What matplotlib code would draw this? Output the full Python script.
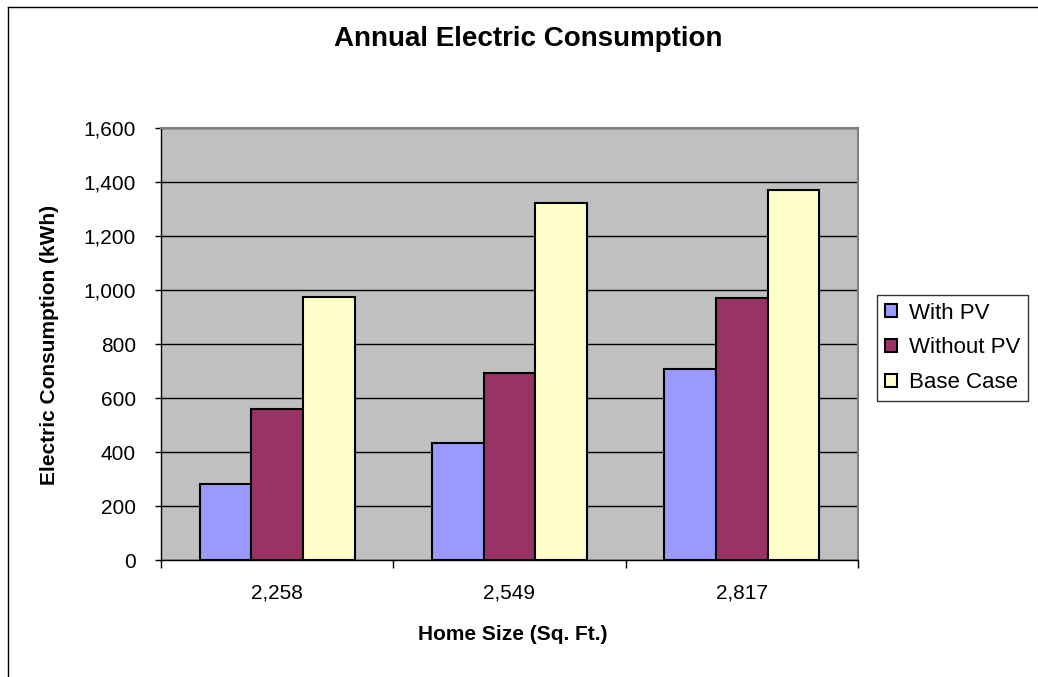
# Annual electric consumption by home size

import matplotlib.pyplot as plt
import numpy as np

plt.rcParams['font.family'] = ['Liberation Sans', 'DejaVu Sans']

home_sizes = ['2,258', '2,549', '2,817']
series_names = ['With PV', 'Without PV', 'Base Case']
with_pv = [281, 432, 707]
without_pv = [559, 693, 970]
base_case = [975, 1322, 1371]
y_ticks = [0, 200, 400, 600, 800, 1000, 1200, 1400, 1600]

colors = ['#9999FF', '#993366', '#FFFFCC']

W, H = 1038, 677
fig = plt.figure(figsize=(W / 100, H / 100), dpi=100)
ax = fig.add_axes([161 / W, 1 - 560 / H, 697 / W, 432 / H])
ax.set_facecolor('#C0C0C0')

x = np.arange(len(home_sizes))
width = 1 / 4.5
for i, (vals, name) in enumerate(zip([with_pv, without_pv, base_case], series_names)):
    ax.bar(x + (i - 1) * width, vals, width, color=colors[i], edgecolor='black',
           linewidth=1.5, label=name, zorder=3)

ax.set_xlim(-0.5, 2.5)
ax.set_ylim(0, 1600)
ax.set_yticks(y_ticks)
ax.set_yticklabels(['{:,}'.format(v) for v in y_ticks], fontsize=15)
ax.yaxis.grid(True, color='black', linewidth=1, zorder=0)
ax.set_axisbelow(True)

ax.set_xticks(x)
ax.set_xticklabels(home_sizes, fontsize=15)
ax.tick_params(axis='x', length=0, pad=17)
ax.set_xticks([-0.5, 0.5, 1.5, 2.5], minor=True)
ax.tick_params(axis='x', which='minor', length=6, width=1, direction='out')
ax.tick_params(axis='y', length=4, width=1, direction='out', pad=14)

for s in ['top', 'right']:
    ax.spines[s].set_color('#808080')
    ax.spines[s].set_linewidth(1.5)
for s in ['left', 'bottom']:
    ax.spines[s].set_color('black')
    ax.spines[s].set_linewidth(1)

fig.text(513 / W, 1 - 640 / H, 'Home Size (Sq. Ft.)', fontsize=15, fontweight='bold',
         ha='center', va='baseline')
fig.text(50 / W, 1 - 345 / H, 'Electric Consumption (kWh)', fontsize=15, fontweight='bold',
         ha='center', va='center', rotation=90)
fig.text(528 / W, 1 - 46 / H, 'Annual Electric Consumption', fontsize=20, fontweight='bold',
         ha='center', va='baseline')

leg = ax.legend(loc='lower left', bbox_to_anchor=(877 / W, 1 - 401 / H), bbox_transform=fig.transFigure,
                fontsize=16, frameon=True, fancybox=False, edgecolor='black', borderaxespad=0,
                handlelength=0.55, handleheight=0.55, handletextpad=0.55, labelspacing=0.62,
                borderpad=0.35)
leg.get_frame().set_linewidth(1)

# outer chart border (left and top edges visible)
fig.add_artist(plt.Line2D([8 / W, 8 / W], [0, 1 - 7 / H], transform=fig.transFigure,
                          color='black', linewidth=1))
fig.add_artist(plt.Line2D([8 / W, 1], [1 - 7 / H, 1 - 7 / H], transform=fig.transFigure,
                          color='black', linewidth=1))

fig.savefig('out.png', dpi=100)
